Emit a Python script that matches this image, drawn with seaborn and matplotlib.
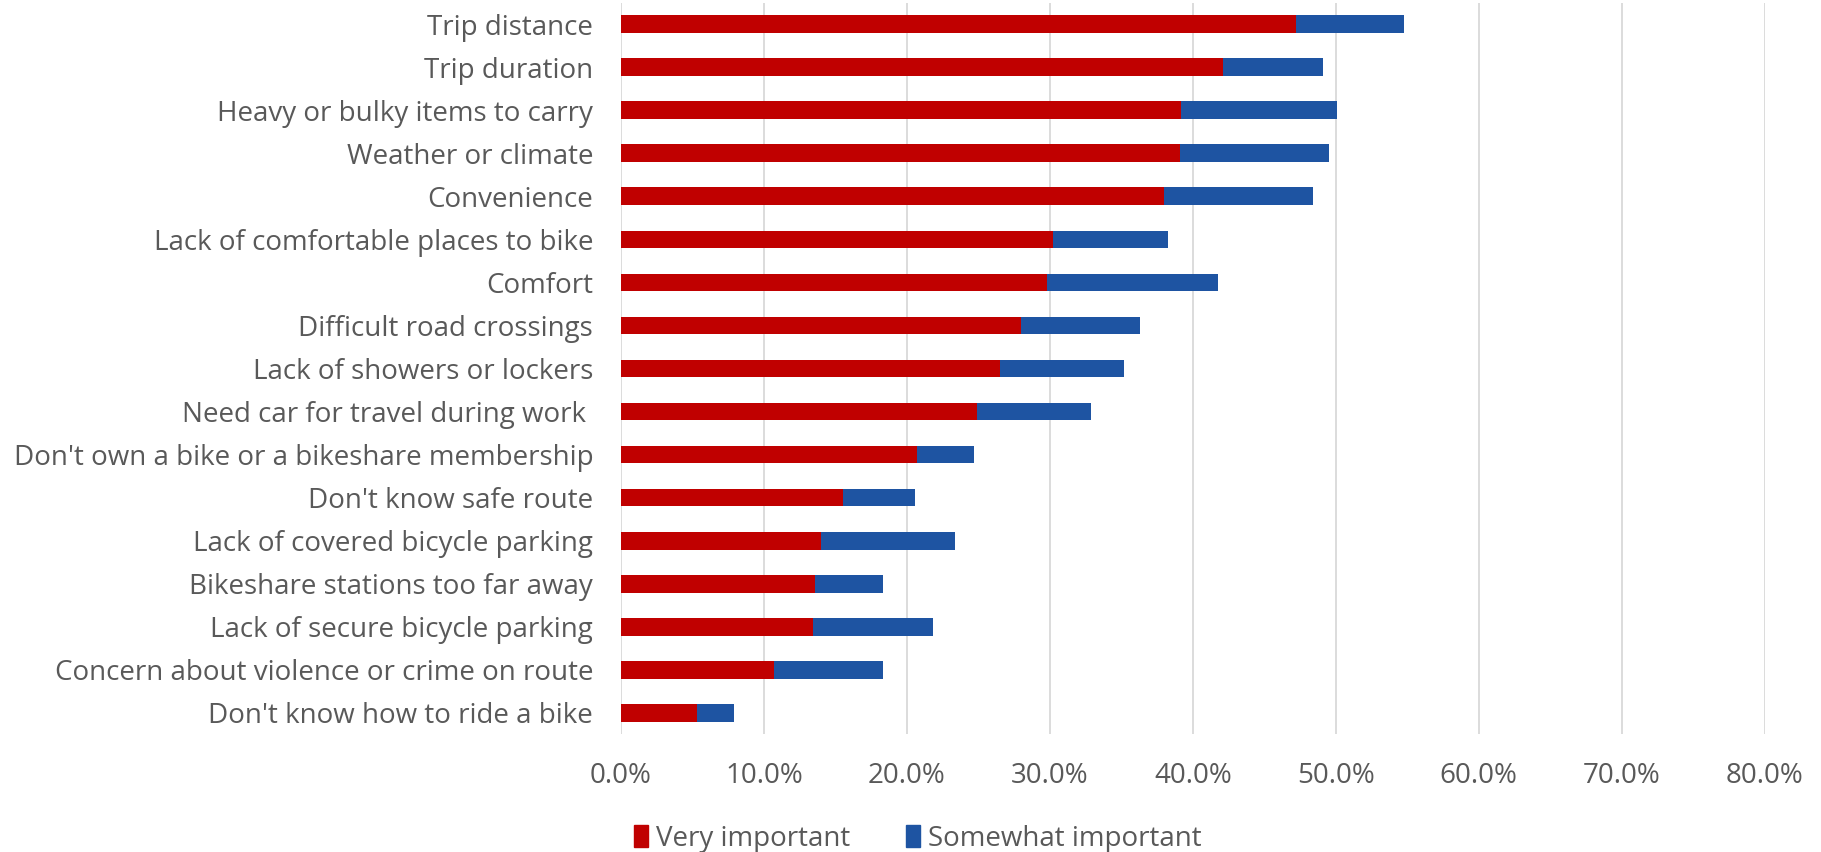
import pandas as pd
import numpy as np
import matplotlib
matplotlib.use("Agg")
import matplotlib.pyplot as plt
from matplotlib.ticker import PercentFormatter
from matplotlib.patches import Patch
import seaborn as sns

# Data (percent of respondents)
categories = [
    "Trip distance",
    "Trip duration",
    "Heavy or bulky items to carry",
    "Weather or climate",
    "Convenience",
    "Lack of comfortable places to bike",
    "Comfort",
    "Difficult road crossings",
    "Lack of showers or lockers",
    "Need car for travel during work ",
    "Don't own a bike or a bikeshare membership",
    "Don't know safe route",
    "Lack of covered bicycle parking",
    "Bikeshare stations too far away",
    "Lack of secure bicycle parking",
    "Concern about violence or crime on route",
    "Don't know how to ride a bike",
]
very_important = [47.2, 42.1, 39.2, 39.1, 38.0, 30.2, 29.8, 28.0, 26.5, 24.9,
                  20.7, 15.5, 14.0, 13.6, 13.4, 10.7, 5.3]
somewhat_important = [7.6, 7.0, 10.9, 10.4, 10.4, 8.1, 12.0, 8.3, 8.7, 8.0,
                      4.0, 5.1, 9.4, 4.7, 8.4, 7.6, 2.6]
tick_values = [0, 10, 20, 30, 40, 50, 60, 70, 80]

red = "#C00000"
blue = "#1E54A2"
text_color = "#595959"

df = pd.DataFrame({
    "factor": categories,
    "very": very_important,
    "somewhat": somewhat_important,
})
df["total"] = df["very"] + df["somewhat"]

sns.set_style("white")
plt.rcParams["font.family"] = ["Open Sans", "DejaVu Sans"]

fig, ax = plt.subplots(figsize=(18.21, 8.52), dpi=100)
fig.subplots_adjust(left=0.341, right=0.969, top=0.997, bottom=0.138)

# stacked bars: total (blue) underneath, very important (red) on top
sns.barplot(data=df, x="total", y="factor", color=blue, width=0.41,
            saturation=1, linewidth=0, ax=ax, zorder=2)
sns.barplot(data=df, x="very", y="factor", color=red, width=0.41,
            saturation=1, linewidth=0, ax=ax, zorder=3)

ax.set_xlim(0, 80)
ax.set_xticks(tick_values)
ax.xaxis.set_major_formatter(PercentFormatter(decimals=1))
ax.grid(axis="x", color="#D9D9D9", linewidth=1.3, zorder=0)
ax.set_axisbelow(True)
for s in ax.spines.values():
    s.set_visible(False)
ax.set_xlabel("")
ax.set_ylabel("")
ax.tick_params(axis="both", length=0, labelsize=20, colors=text_color)
ax.tick_params(axis="x", pad=20)
ax.tick_params(axis="y", pad=20)

handles = [Patch(color=red, label="Very important"),
           Patch(color=blue, label="Somewhat important")]
leg = fig.legend(handles=handles, loc="lower center", bbox_to_anchor=(0.504, -0.03),
                 ncol=2, frameon=False, fontsize=20, handlelength=0.5,
                 handleheight=0.8, handletextpad=0.3, columnspacing=2.0)
for t in leg.get_texts():
    t.set_color(text_color)

plt.savefig("out.png", dpi=100)
